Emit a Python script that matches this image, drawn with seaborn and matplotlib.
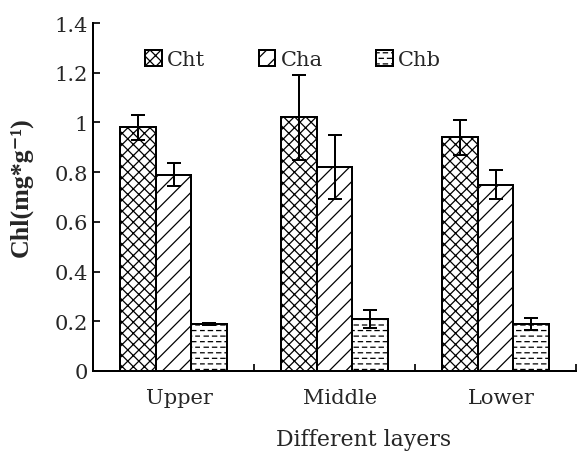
import numpy as np
import pandas as pd
import matplotlib
matplotlib.use("Agg")
import matplotlib.pyplot as plt
import matplotlib.hatch as mhatch
from matplotlib.path import Path
from matplotlib.patches import Patch
from matplotlib.ticker import FixedLocator
from matplotlib.transforms import ScaledTranslation
import seaborn as sns

# --- data -------------------------------------------------------------
layers = ["Upper", "Middle", "Lower"]
pigments = ["Cht", "Cha", "Chb"]
cht = [0.98, 1.02, 0.94]
cht_err = [0.05, 0.17, 0.07]
cha = [0.79, 0.82, 0.75]
cha_err = [0.045, 0.13, 0.06]
chb = [0.19, 0.21, 0.19]
chb_err = [0.003, 0.035, 0.025]
y_ticks = [0, 0.2, 0.4, 0.6, 0.8, 1.0, 1.2, 1.4]
y_tick_labels = ["0", "0.2", "0.4", "0.6", "0.8", "1", "1.2", "1.4"]

hatches = ["xxx", "//", "---"]


# Horizontal hatch drawn as staggered short dashes instead of solid rules
class DashedRowHatch(mhatch.HatchPatternBase):
    dashes_per_row = 12

    def __init__(self, hatch, density):
        self.num_lines = int((hatch.count('-') + hatch.count('+')) * density)
        self.num_vertices = self.num_lines * self.dashes_per_row * 2

    def set_vertices_and_codes(self, vertices, codes):
        n = self.dashes_per_row
        seg = 1.0 / n
        k = 0
        for i in range(self.num_lines):
            y = (i + 0.5) / self.num_lines
            shift = 0.5 * seg if i % 2 else 0.0
            for j in range(n):
                x0 = j * seg + shift
                vertices[k] = (x0, y)
                vertices[k + 1] = (x0 + 0.5 * seg, y)
                codes[k] = Path.MOVETO
                codes[k + 1] = Path.LINETO
                k += 2


mhatch._hatch_types = [DashedRowHatch if t is mhatch.HorizontalHatch else t
                       for t in mhatch._hatch_types]

df = pd.DataFrame({
    "layer": layers * 3,
    "pigment": [p for p in pigments for _ in layers],
    "value": cht + cha + chb,
    "err": cht_err + cha_err + chb_err,
})

sns.set_style("ticks")
plt.rcParams["font.family"] = ["DejaVu Serif"]
plt.rcParams["hatch.linewidth"] = 0.9

DPI = 100
PX = 72 / DPI  # points per pixel
fig = plt.figure(figsize=(577 / DPI, 452 / DPI), dpi=DPI)
ax = fig.add_axes([93 / 577, 80 / 452, 483 / 577, 348 / 452])

sns.barplot(data=df, x="layer", y="value", hue="pigment", order=layers,
            hue_order=pigments, palette=["white"] * 3, saturation=1,
            edgecolor="black", linewidth=2 * PX, width=0.67, gap=0,
            errorbar=None, legend=False, ax=ax)

for container, h, p in zip(ax.containers, hatches, pigments):
    sub = df[df.pigment == p].set_index("layer").loc[layers]
    xs = []
    for bar in container:
        bar.set_hatch(h)
        xs.append(bar.get_x() + bar.get_width() / 2)
    ax.errorbar(xs, sub["value"].values, yerr=sub["err"].values, fmt="none",
                ecolor="black", elinewidth=2 * PX, capsize=7 * PX,
                capthick=2 * PX, zorder=5)

ax.set_xlim(-0.5, 2.5)
ax.set_ylim(0, 1.4)
ax.set_yticks(y_ticks)
ax.set_yticklabels(y_tick_labels)
ax.xaxis.set_minor_locator(FixedLocator([0.5, 1.5, 2.5]))
ax.tick_params(axis="x", which="major", length=0, pad=17 * PX, labelsize=21 * PX)
ax.tick_params(axis="x", which="minor", direction="in", length=7 * PX, width=2 * PX)
ax.tick_params(axis="y", direction="in", length=7 * PX, width=2 * PX,
               pad=5 * PX, labelsize=21 * PX)

# category names sit slightly right of the group centres
for lbl in ax.get_xticklabels():
    lbl.set_transform(lbl.get_transform()
                      + ScaledTranslation(6 / DPI, 0, fig.dpi_scale_trans))

for side in ("top", "right"):
    ax.spines[side].set_visible(False)
for side in ("left", "bottom"):
    ax.spines[side].set_linewidth(2 * PX)
    ax.spines[side].set_color("black")

ax.set_xlabel("Different layers", fontsize=22 * PX)
ax.xaxis.set_label_coords(0.561, -0.164)
ax.set_ylabel("Chl(mg*g⁻¹)", fontsize=26 * PX, fontweight="bold",
              family=["Liberation Serif", "DejaVu Serif"])
ax.yaxis.set_label_coords(-0.125, 0.53)

handles = [Patch(facecolor="white", edgecolor="black", hatch=h, linewidth=2 * PX)
           for h in hatches]
ax.legend(handles, pigments, loc="upper left", bbox_to_anchor=(0.108, 0.923),
          ncol=3, frameon=False, fontsize=21 * PX, handlelength=0.79,
          handleheight=0.79, handletextpad=0.25, columnspacing=2.55,
          borderaxespad=0, borderpad=0)

fig.savefig("out.png", dpi=DPI)
